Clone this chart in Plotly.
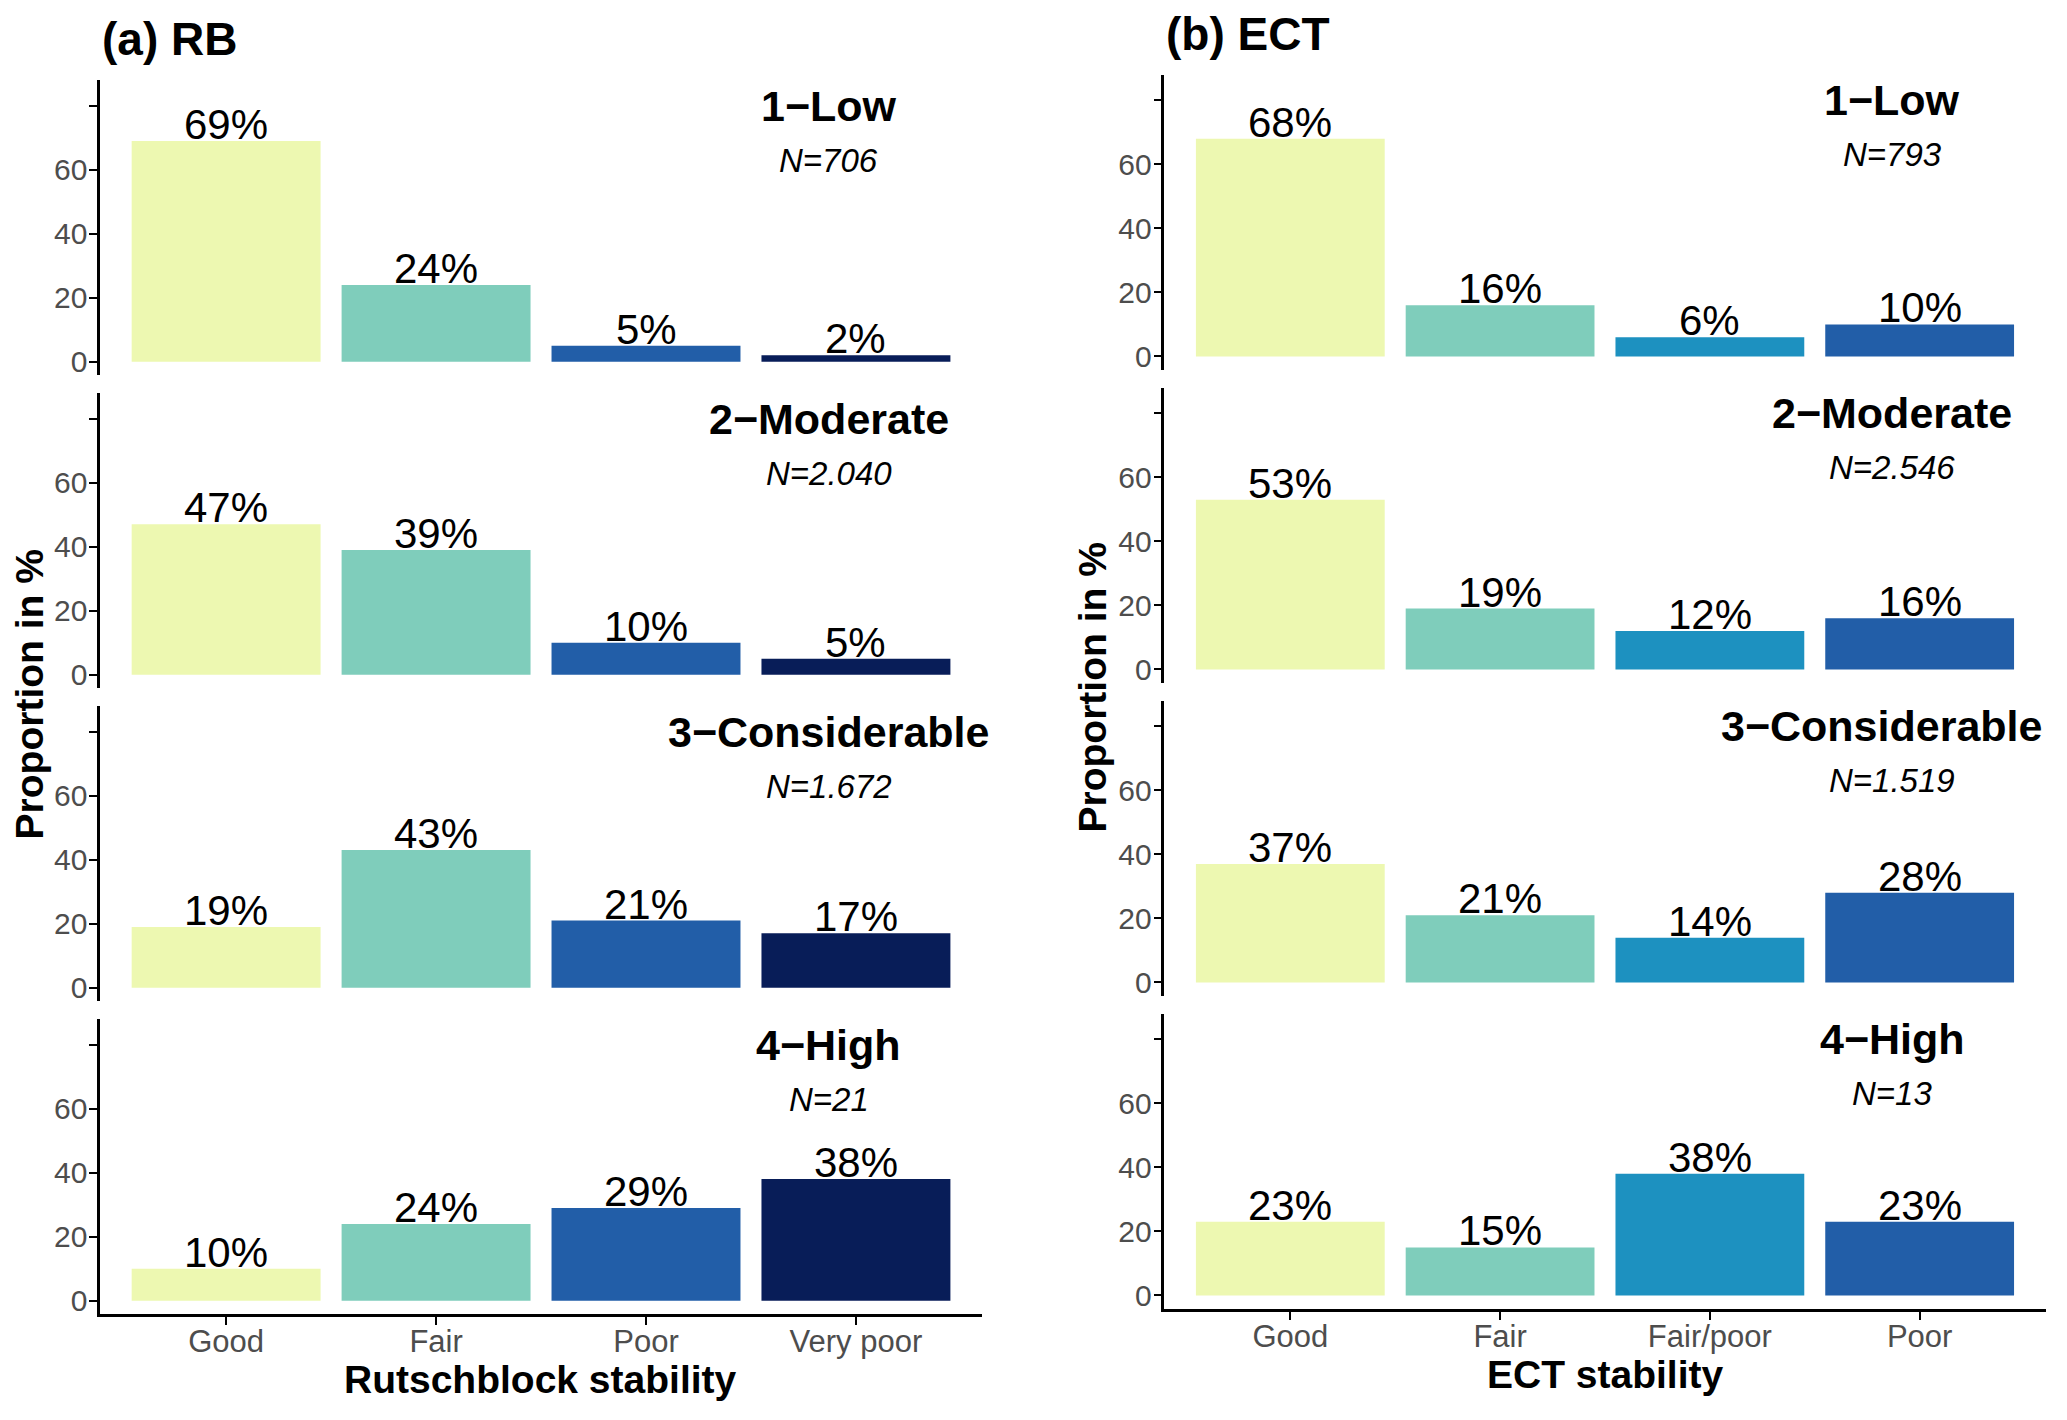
import plotly.graph_objects as go
from plotly.subplots import make_subplots

# ---------------- data ----------------
rb_categories = ["Good", "Fair", "Poor", "Very poor"]
ect_categories = ["Good", "Fair", "Fair/poor", "Poor"]
danger_levels = ["1\u2212Low", "2\u2212Moderate", "3\u2212Considerable", "4\u2212High"]

rb_low = [69, 24, 5, 2]
rb_moderate = [47, 39, 10, 5]
rb_considerable = [19, 43, 21, 17]
rb_high = [10, 24, 29, 38]
rb_n = ["706", "2.040", "1.672", "21"]

ect_low = [68, 16, 6, 10]
ect_moderate = [53, 19, 12, 16]
ect_considerable = [37, 21, 14, 28]
ect_high = [23, 15, 38, 23]
ect_n = ["793", "2.546", "1.519", "13"]

rb_colors = ["#EDF8B1", "#7FCDBB", "#225EA8", "#081D58"]
ect_colors = ["#EDF8B1", "#7FCDBB", "#1D91C0", "#225EA8"]

y_tickvals = [0, 20, 40, 60, 80]
y_ticktext = ["0", "20", "40", "60", ""]

# ---------------- figure ----------------
PAGE_W, PAGE_H = 2067, 1420
OFF = 8  # default page body margin
FW, FH = PAGE_W - 2 * OFF, PAGE_H - 2 * OFF
FONT = "Liberation Sans, Arial, Helvetica, sans-serif"

rb_rows = [rb_low, rb_moderate, rb_considerable, rb_high]
ect_rows = [ect_low, ect_moderate, ect_considerable, ect_high]

fig = make_subplots(rows=4, cols=2)

panels = [
    (1, rb_categories, rb_rows, rb_colors, rb_n),
    (2, ect_categories, ect_rows, ect_colors, ect_n),
]

for col, cats, rows, colors, ns in panels:
    for r, vals in enumerate(rows):
        fig.add_trace(
            go.Bar(
                x=cats, y=vals, marker=dict(color=colors, line=dict(width=0)),
                width=0.9, showlegend=False, hoverinfo="x+y",
            ),
            row=r + 1, col=col,
        )

fig.update_layout(
    width=FW, height=FH,
    margin=dict(l=0, r=0, t=0, b=0),
    paper_bgcolor="white", plot_bgcolor="white",
    font=dict(family=FONT, color="black"),
    bargap=0.1,
)

# layout geometry (measured on a 1568-wide view of the reference)
S = PAGE_H / 1077.4


def px(d):
    return (d * S - OFF) / FW


def py(d):
    return 1 - (d * S - OFF) / FH


x_dom = {1: [px(76), px(745)], 2: [px(883.5), px(1552)]}
shift = {1: 0.0, 2: -4.0}
annotations = []

for col, cats, rows, colors, ns in panels:
    for r, vals in enumerate(rows):
        idx = r * 2 + col
        xa = "xaxis" if idx == 1 else f"xaxis{idx}"
        ya = "yaxis" if idx == 1 else f"yaxis{idx}"
        xref = "x" if idx == 1 else f"x{idx}"
        yref = "y" if idx == 1 else f"y{idx}"
        top = 60.9 + 238 * r + shift[col]
        bot = 285.2 + 238 * r + shift[col]
        last = r == 3
        fig.layout[xa].update(
            domain=x_dom[col], range=[-0.6, 3.6], type="category",
            showline=last, linecolor="black", linewidth=2.5,
            ticks="outside" if last else "", ticklen=8, tickwidth=2, tickcolor="black",
            ticklabelstandoff=-10 if last else 0,
            showticklabels=last, tickfont=dict(size=31, color="#4D4D4D", family=FONT),
            showgrid=False, zeroline=False, fixedrange=True,
        )
        fig.layout[ya].update(
            domain=[py(bot), py(top)], range=[-4.2, 88],
            showline=True, linecolor="black", linewidth=2.5,
            ticks="outside", ticklen=8, tickwidth=2, tickcolor="black",
            ticklabelstandoff=-4,
            tickvals=y_tickvals, ticktext=y_ticktext,
            tickfont=dict(size=30, color="#4D4D4D", family=FONT),
            showgrid=False, zeroline=False, fixedrange=True,
        )
        # percentage labels
        for i, v in enumerate(vals):
            annotations.append(dict(
                x=i, y=v, xref=xref, yref=yref, text=f"{v}%", showarrow=False,
                xanchor="center", yanchor="bottom", yshift=-9,
                font=dict(size=42, color="black", family=FONT),
            ))
        # facet label and N
        fx = 2.87 if not (col == 2 and r == 2) else 2.82
        annotations.append(dict(
            x=fx, y=80, xref=xref, yref=yref, text=f"<b>{danger_levels[r]}</b>",
            showarrow=False, xanchor="center", yanchor="middle",
            font=dict(size=43, color="black", family=FONT),
        ))
        annotations.append(dict(
            x=2.87, y=63, xref=xref, yref=yref, text=f"<i>N={ns[r]}</i>",
            showarrow=False, xanchor="center", yanchor="middle",
            font=dict(size=33, color="black", family=FONT),
        ))

# panel titles and axis titles
annotations += [
    dict(x=px(76), y=py(30), xref="paper", yref="paper", text="<b>(a) RB</b>",
         showarrow=False, xanchor="left", yanchor="middle",
         font=dict(size=46, color="black", family=FONT)),
    dict(x=px(883), y=py(26), xref="paper", yref="paper", text="<b>(b) ECT</b>",
         showarrow=False, xanchor="left", yanchor="middle",
         font=dict(size=46, color="black", family=FONT)),
    dict(x=px(22), y=py(528), xref="paper", yref="paper", text="<b>Proportion in %</b>",
         showarrow=False, textangle=-90, xanchor="center", yanchor="middle",
         font=dict(size=39, color="black", family=FONT)),
    dict(x=px(829), y=py(523), xref="paper", yref="paper", text="<b>Proportion in %</b>",
         showarrow=False, textangle=-90, xanchor="center", yanchor="middle",
         font=dict(size=39, color="black", family=FONT)),
    dict(x=px(410), y=py(1049), xref="paper", yref="paper", text="<b>Rutschblock stability</b>",
         showarrow=False, xanchor="center", yanchor="middle",
         font=dict(size=39, color="black", family=FONT)),
    dict(x=px(1218), y=py(1045), xref="paper", yref="paper", text="<b>ECT stability</b>",
         showarrow=False, xanchor="center", yanchor="middle",
         font=dict(size=39, color="black", family=FONT)),
]
fig.update_layout(annotations=annotations)

fig.write_html("out.html")
